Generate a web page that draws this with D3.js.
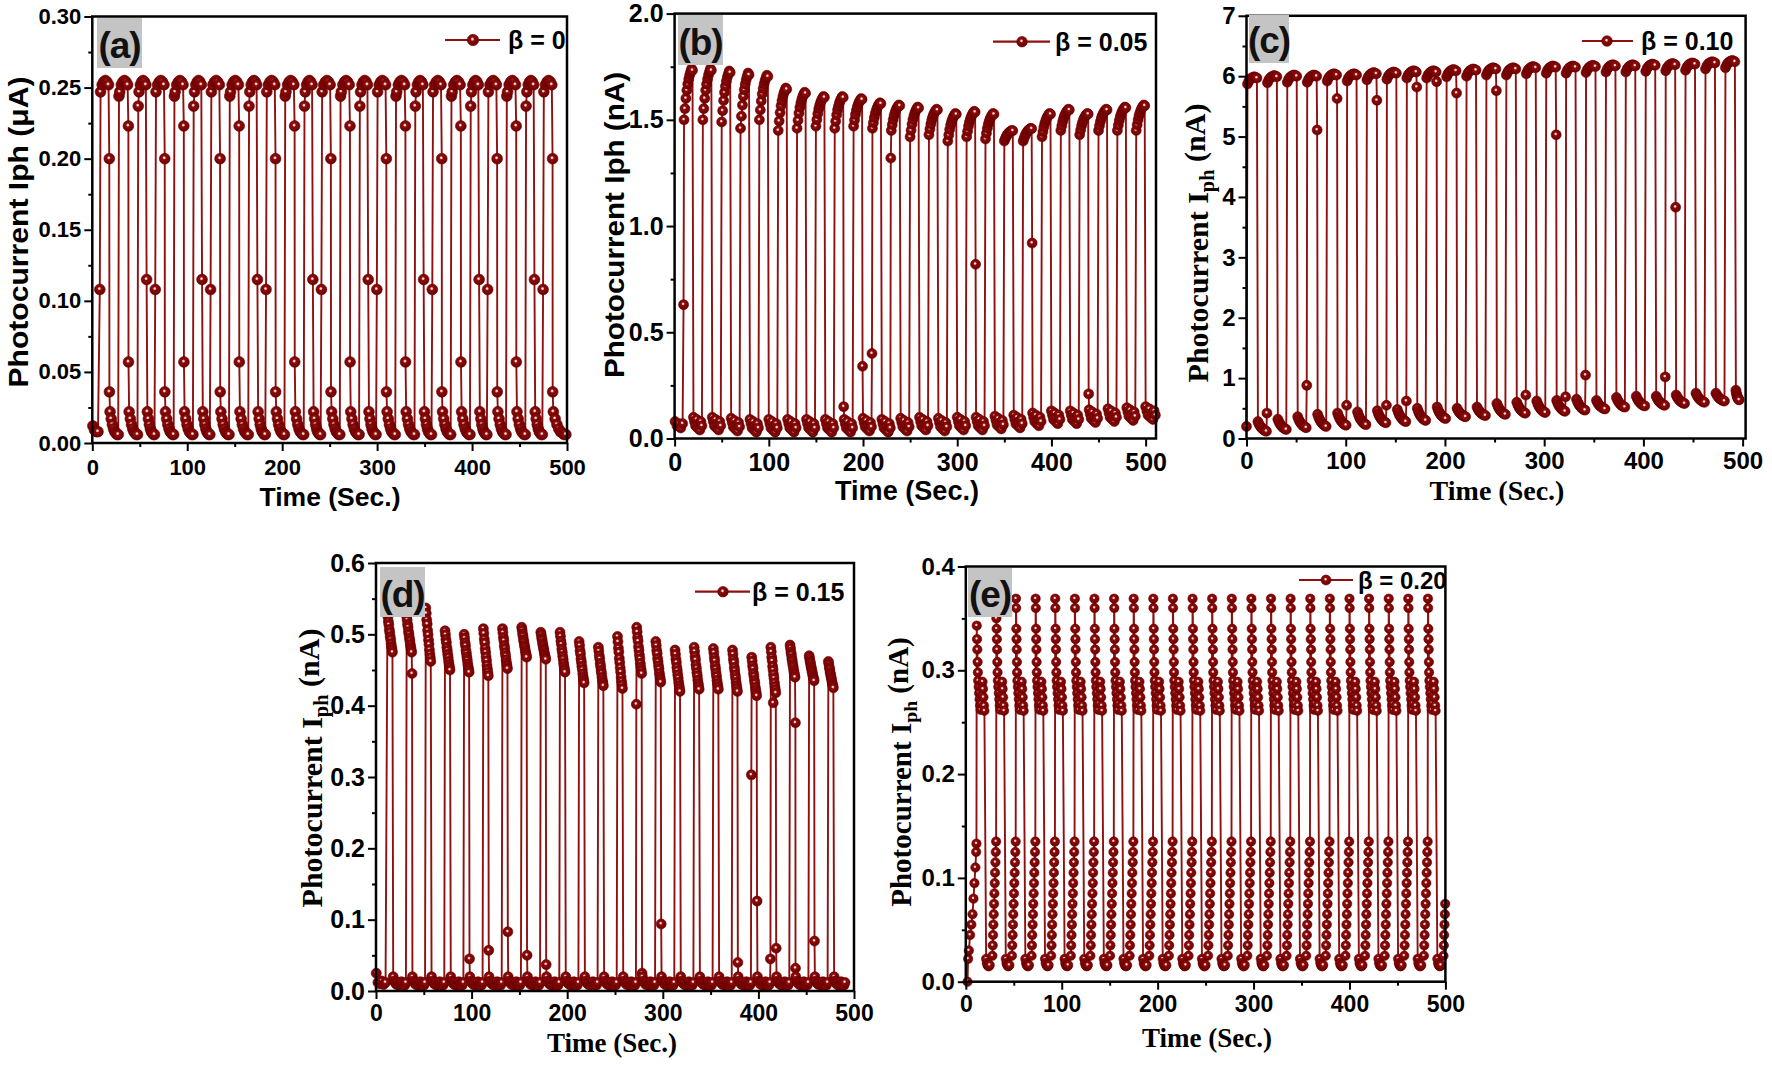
<!DOCTYPE html>
<html><head><meta charset="utf-8">
<script src="https://cdn.jsdelivr.net/npm/d3@7"></script>
<style>body{margin:0;background:#fff}svg{display:block}</style>
</head><body>
<svg id="chart" width="1772" height="1067"></svg>
<script>
// ================= DATA =================
const xTicks = [0,100,200,300,400,500];
const xMinor = [50,150,250,350,450];

// ---- Panel (a) beta = 0, Iph in uA ----
const aRise = [7.9,28.1,48.4,66.3,86.5,106.8,124.6,144.8,165.1,183.0,203.2,223.5,241.3,261.5,281.8,299.7,319.9,340.2,358.1,378.3,398.6,416.4,436.6,456.9,474.8];
const aFall = [17.9,38.0,57.2,76.3,96.4,115.6,134.6,154.7,173.9,193.0,213.1,232.3,251.3,271.4,290.6,309.7,329.8,349.0,368.1,388.2,407.4,426.4,446.5,465.7,484.8];
const aRiseEdge = [0.108,0.244,0.237,0.108,0.244,0.237,0.108,0.244,0.237,0.108,0.244,0.237,0.108,0.244,0.237,0.108,0.244,0.237,0.108,0.244,0.237,0.108,0.244,0.237,0.108];
const aFallEdge = [[0.2,0.036],[0.223,0.057],[0.115],[0.2,0.036],[0.223,0.057],[0.115],[0.2,0.036],[0.223,0.057],[0.115],[0.2,0.036],[0.223,0.057],[0.115],[0.2,0.036],[0.223,0.057],[0.115],[0.2,0.036],[0.223,0.057],[0.115],[0.2,0.036],[0.223,0.057],[0.115],[0.2,0.036],[0.223,0.057],[0.115],[0.2,0.036]];
const aOnVals = [0.247,0.252,0.254,0.255,0.254,0.252];
const aOffVals = [0.022,0.017,0.013,0.010,0.008,0.007,0.006,0.006];
const aStart = [[0.6,0.012],[2.4,0.009],[4.2,0.008],[6.0,0.008]];
const aEnd = 499.6;
const aYTicks = [0,0.05,0.10,0.15,0.20,0.25,0.30];
const aYMinor = [0.025,0.075,0.125,0.175,0.225,0.275];

// ---- Panel (b) beta = 0.05, Iph in nA ----
const bRise = [9.5,29.5,49.5,69.5,89.5,109.5,129.5,149.5,169.5,189.5,209.5,229.5,249.5,269.5,289.5,309.5,329.5,349.5,369.5,389.5,409.5,429.5,449.5,469.5,489.5];
const bFall = [19.5,39.5,59.5,79.5,99.5,119.5,139.5,159.5,179.5,199.5,219.5,239.5,259.5,279.5,299.5,319.5,339.5,359.5,379.5,399.5,419.5,439.5,459.5,479.5,499.5];
const bOnLow  = [1.50,1.50,1.49,1.46,1.50,1.45,1.46,1.47,1.46,1.47,1.46,1.45,1.42,1.43,1.40,1.42,1.41,1.40,1.40,1.42,1.45,1.43,1.45,1.45,1.45];
const bOnHigh = [1.74,1.74,1.73,1.72,1.71,1.65,1.63,1.61,1.61,1.60,1.58,1.57,1.56,1.55,1.53,1.54,1.53,1.45,1.46,1.53,1.55,1.53,1.55,1.56,1.57];
const bOnShape = [0,0.22,0.42,0.58,0.7,0.8,0.88,0.94,1.0,0.97];
const bOffLevel = [0.07,0.07,0.065,0.06,0.06,0.06,0.06,0.06,0.06,0.065,0.06,0.065,0.07,0.065,0.07,0.07,0.075,0.08,0.09,0.10,0.10,0.105,0.11,0.115,0.12];
const bOffShape = [0.03,0.01,-0.01,0.02,-0.02,0.0,-0.03,0.01,-0.01];
const bRiseEdge = {0:[0.63],10:[0.40],11:[1.32]};
const bFallEdge = {8:[0.15],9:[0.34],15:[0.82],18:[0.92],21:[0.21]};
const bStart = [[0.5,0.08],[2.5,0.06],[4.5,0.07],[6.5,0.05],[8.5,0.07]];
const bEnd = 510.8;
const bYTicks = [0,0.5,1.0,1.5,2.0];
const bYMinor = [0.25,0.75,1.25,1.75];

// ---- Panel (c) beta = 0.10, Iph in nA ----
const cRise = [0.5,20.6,40.6,60.7,80.8,100.9,120.9,141.0,161.1,181.1,201.2,221.3,241.3,261.4,281.5,301.6,321.6,341.7,361.8,381.8,401.9,422.0,442.0,462.1,482.2];
const cFall = [11.0,31.1,51.1,71.2,91.3,111.4,131.4,151.5,171.6,191.6,211.7,231.8,251.8,271.9,292.0,312.1,332.1,352.2,372.3,392.3,412.4,432.5,452.5,472.6,492.7];
const cOn = [5.95,5.97,5.98,5.98,6.0,6.0,6.02,6.03,6.05,6.05,6.07,6.08,6.10,6.10,6.12,6.13,6.13,6.14,6.15,6.15,6.16,6.17,6.18,6.20,6.22];
const cOnShape = [-0.08,-0.03,0.0,0.02,0.03,0.04,0.03,0.02];
const cOffLow  = [0.12,0.15,0.18,0.20,0.22,0.23,0.26,0.28,0.30,0.33,0.36,0.38,0.40,0.42,0.43,0.45,0.47,0.49,0.52,0.54,0.55,0.58,0.60,0.62,0.64];
const cOffHigh = [0.28,0.32,0.36,0.40,0.42,0.44,0.46,0.48,0.50,0.52,0.50,0.52,0.58,0.60,0.62,0.63,0.65,0.63,0.68,0.70,0.70,0.72,0.75,0.75,0.80];
const cOffShape = [1,0.75,0.55,0.4,0.28,0.18,0.1,0.04,0];
const cRiseEdge = {1:[0.42],3:[0.88],5:[0.55],7:[0.55],8:[0.62],14:[0.72],16:[0.69],17:[1.05],21:[1.02]};
const cFallEdge = {3:[5.11],4:[5.63],6:[5.60],8:[5.82],9:[5.91],10:[5.72],12:[5.76],15:[5.03],21:[3.83]};
const cStart = [[0.0,0.2]];
const cEnd = 497;
const cYTicks = [0,1,2,3,4,5,6,7];
const cYMinor = [0.5,1.5,2.5,3.5,4.5,5.5,6.5];

// ---- Panel (d) beta = 0.15, Iph in nA ----
const dRise = [11.6,31.7,51.7,71.8,91.8,111.9,131.9,152.0,172.0,192.1,212.1,232.2,252.2,272.3,292.3,312.4,332.4,352.5,372.5,392.6,412.6,432.7,452.7,472.8];
const dFall = [17.6,37.7,57.7,77.8,97.8,117.9,137.9,158.0,178.0,198.1,218.1,238.2,258.2,278.3,298.3,318.4,338.4,358.5,378.5,398.6,418.6,438.7,458.7,478.8];
const dOnHigh = [0.53,0.525,0.537,0.505,0.50,0.508,0.508,0.51,0.503,0.503,0.49,0.482,0.497,0.51,0.49,0.478,0.482,0.48,0.478,0.468,0.482,0.485,0.47,0.462];
const dOnLow  = [0.475,0.475,0.462,0.45,0.447,0.442,0.452,0.468,0.465,0.447,0.432,0.428,0.424,0.445,0.433,0.42,0.423,0.423,0.42,0.414,0.418,0.44,0.435,0.425];
const dOnShape = [0,0.1,0.22,0.3,0.42,0.5,0.6,0.68,0.78,0.86,0.93,1.0];
const dOffVals = [0.02,0.014,0.011,0.009,0.012,0.008,0.01,0.013,0.009,0.011,0.008,0.012];
const dRiseEdge = {13:[0.402],19:[0.303],20:[0.045]};
const dFallEdge = {1:[0.445],4:[0.045],5:[0.057],6:[0.083],7:[0.05],8:[0.037],13:[0.025],14:[0.094],18:[0.04],19:[0.126],20:[0.06],21:[0.376,0.032],22:[0.07]};
const dExtra = [[415.5,0.404]];
const dStart = [[0.3,0.025],[2.0,0.012],[4.0,0.010],[6.0,0.014],[8.0,0.009],[10.0,0.012]];
const dEnd = 491;
const dYTicks = [0,0.1,0.2,0.3,0.4,0.5,0.6];
const dYMinor = [0.05,0.15,0.25,0.35,0.45,0.55];

// ---- Panel (e) beta = 0.20, Iph in nA ----
const eJump = [11.4,31.9,52.3,72.8,93.2,113.7,134.1,154.6,175.0,195.5,215.9,236.4,256.8,277.3,297.7,318.2,338.6,359.1,379.5,400.0,420.4,440.9,461.3,481.8,502.2];
const eTop = [0.343,0.35,0.369,0.369,0.369,0.369,0.369,0.369,0.369,0.369,0.369,0.369,0.369,0.369,0.369,0.369,0.369,0.369,0.369,0.369,0.369,0.369,0.369,0.369];
const eColumn = [0.36,0.34,0.33,0.32,0.308,0.298];
const eBlob = [0.29,0.284,0.278,0.272,0.266,0.262,0.268,0.276,0.284,0.289,0.282,0.274,0.266,0.261];
const eLow = [0.022,0.018,0.016,0.015,0.015,0.016];
const eSlowRise = [0.025,0.035,0.045,0.055,0.065,0.075,0.085,0.095,0.105,0.115,0.125,0.135];
const eStart = [[1.8,0.0],[2.4,0.022],[3.2,0.03],[4.5,0.045],[5.8,0.055],[7.0,0.065],[8.0,0.08],[9.0,0.095],[10.0,0.11],[10.8,0.125],[11.1,0.133]];
const eEnd = 500;
const eYTicks = [0,0.1,0.2,0.3,0.4];
const eYMinor = [0.05,0.15,0.25,0.35];

// ================= BUILD POINT LISTS =================
function spread(t0, t1, vals){
  const n = vals.length;
  return vals.map((v,i)=>[n===1?(t0+t1)/2:t0+(t1-t0)*i/(n-1), v]);
}
function buildSquare(rise, fall, end, start, onFn, offFn, riseEdge, fallEdge, gap){
  const pts = start.slice();
  for(let k=0;k<rise.length;k++){
    const r=rise[k], f=fall[k], nx = k<rise.length-1 ? rise[k+1] : end;
    (riseEdge[k]||[]).forEach((v,i)=>pts.push([r+0.12*i, v]));
    pts.push(...spread(r+gap, f-gap, onFn(k)));
    (fallEdge[k]||[]).forEach((v,i)=>pts.push([f+0.12*i, v]));
    pts.push(...spread(f+gap, nx-gap, offFn(k)));
  }
  return pts;
}
const aPts = buildSquare(aRise,aFall,aEnd,aStart,
  k=>aOnVals, k=>aOffVals,
  Object.fromEntries(aRiseEdge.map((v,k)=>[k,[v]])),
  Object.fromEntries(aFallEdge.map((v,k)=>[k,v])), 0.8);
const bPts = buildSquare(bRise,bFall,bEnd,bStart,
  k=>bOnShape.map(fr=>bOnLow[k]+fr*(bOnHigh[k]-bOnLow[k])),
  k=>bOffShape.map(o=>Math.max(0.005,bOffLevel[k]+o)),
  bRiseEdge,bFallEdge,0.5);
const cPts = buildSquare(cRise,cFall,cEnd,cStart,
  k=>cOnShape.map(o=>cOn[k]+o),
  k=>cOffShape.map(fr=>cOffLow[k]+fr*(cOffHigh[k]-cOffLow[k])),
  cRiseEdge,cFallEdge,0.5);
let dPts = buildSquare(dRise,dFall,dEnd,dStart,
  k=>dOnShape.map(fr=>dOnHigh[k]-fr*(dOnHigh[k]-dOnLow[k])),
  k=>dOffVals, dRiseEdge,dFallEdge,0.4);
dPts = dPts.concat(dExtra).map((p,i)=>[p[0],p[1],i]).sort((p,q)=>p[0]-q[0]||p[2]-q[2]).map(p=>[p[0],p[1]]);

const ePts = eStart.slice();
for(let k=0;k<eJump.length;k++){
  const J = eJump[k];
  if(k<eTop.length){
    const col = [eTop[k]].concat(eColumn.filter(v=>v<eTop[k]-0.004));
    ePts.push(...spread(J, J+1.2, col));
    ePts.push(...spread(J+1.5, J+8.0, eBlob));
    ePts.push(...spread(J+9.8, J+13.5, eLow));
  }
  if(k+1<eJump.length){
    const Jn = eJump[k+1];
    ePts.push(...spread(Jn-4.2, Jn-0.3, eSlowRise));
  }
}
const ePtsClip = ePts.filter(p=>p[0]<=eEnd);

// ================= DRAW =================
const SANS = "'Liberation Sans', Arial, Helvetica, sans-serif";
const SERIF = "'Liberation Serif', 'Times New Roman', Times, serif";
const LINE = "#8f1010";
const svg = d3.select('#chart');
svg.append('rect').attr('width',1772).attr('height',1067).attr('fill','#fff');
const defs = svg.append('defs');
const grad = defs.append('radialGradient').attr('id','ball').attr('cx','45%').attr('cy','42%').attr('r','58%');
grad.append('stop').attr('offset','0%').attr('stop-color','#ffffff');
grad.append('stop').attr('offset','12%').attr('stop-color','#efcccc');
grad.append('stop').attr('offset','30%').attr('stop-color','#8e0b0b');
grad.append('stop').attr('offset','100%').attr('stop-color','#6c0000');

function drawPanel(p){
  const x = d3.scaleLinear().domain(p.xDom).range([p.left,p.right]);
  const y = d3.scaleLinear().domain(p.yDom).range([p.bottom,p.top]);
  const g = svg.append('g');
  const line = d3.line().x(d=>x(d[0])).y(d=>y(d[1]));
  g.append('path').datum(p.pts).attr('d',line).attr('fill','none')
    .attr('stroke',LINE).attr('stroke-width',1.9).attr('stroke-linejoin','round');
  g.append('g').selectAll('circle').data(p.pts).join('circle')
    .attr('cx',d=>x(d[0])).attr('cy',d=>y(d[1])).attr('r',p.r)
    .attr('fill','url(#ball)').attr('stroke','#6a0000').attr('stroke-width',0.6);
  // axes
  const gy = g.append('g').attr('transform',`translate(${p.left},0)`)
    .call(d3.axisLeft(y).tickValues(p.yTicks).tickSize(8).tickPadding(3).tickFormat(d3.format(p.yFmt)));
  const gym = g.append('g').attr('transform',`translate(${p.left},0)`)
    .call(d3.axisLeft(y).tickValues(p.yMinor).tickSize(4).tickFormat(''));
  const xfs = p.xfs || p.fs;
  const xPad = (p.xBase||32) - 8 - 0.71*xfs;
  const gx = g.append('g').attr('transform',`translate(0,${p.bottom})`)
    .call(d3.axisBottom(x).tickValues(xTicks).tickSize(8).tickPadding(xPad).tickFormat(d3.format('d')));
  const gxm = g.append('g').attr('transform',`translate(0,${p.bottom})`)
    .call(d3.axisBottom(x).tickValues(xMinor).tickSize(4).tickFormat(''));
  [gy,gym,gx,gxm].forEach(a=>{
    a.select('.domain').remove();
    a.selectAll('line').attr('stroke','#000').attr('stroke-width',2);
    a.selectAll('text').attr('font-family',SANS).attr('font-weight','bold').attr('fill','#000');
  });
  gy.selectAll('text').attr('font-size',p.fs);
  gx.selectAll('text').attr('font-size',xfs);
  g.append('rect').attr('x',p.left).attr('y',p.top).attr('width',p.right-p.left)
    .attr('height',p.bottom-p.top).attr('fill','none').attr('stroke','#000').attr('stroke-width',2.5);
  // y title
  const yt = g.append('text').attr('transform',`translate(${p.yT[0]},${p.yT[1]}) rotate(-90)`)
    .attr('text-anchor','middle').attr('font-weight','bold').attr('fill','#000');
  if(p.serif){
    yt.attr('font-family',SERIF).attr('font-size',p.yTfs);
    yt.append('tspan').text('Photocurrent I');
    yt.append('tspan').attr('font-size',p.yTfs*0.68).attr('dy','0.3em').text('ph');
    yt.append('tspan').attr('dy','-0.3em').text(' ('+p.unit+')');
  } else {
    yt.attr('font-family',SANS).attr('font-size',p.yTfs)
      .attr('textLength',p.yTlen).attr('lengthAdjust','spacingAndGlyphs')
      .text('Photocurrent Iph ('+p.unit+')');
  }
  // x title
  const xt = g.append('text').attr('x',p.xT[0]).attr('y',p.xT[1]).attr('text-anchor','middle')
    .attr('font-weight','bold').attr('fill','#000')
    .attr('font-family',p.serif?SERIF:SANS).attr('font-size',p.xTfs).text('Time (Sec.)');
  if(p.xTlen) xt.attr('textLength',p.xTlen).attr('lengthAdjust','spacingAndGlyphs');
  // panel label
  g.append('rect').attr('x',p.box[0]).attr('y',p.box[1]).attr('width',p.box[2]).attr('height',p.box[3]).attr('fill','#c4c4c4');
  g.append('text').attr('x',p.box[0]+p.box[2]/2).attr('y',p.box[1]+p.box[3]-10)
    .attr('text-anchor','middle').attr('font-family',SANS).attr('font-weight','bold')
    .attr('font-size',37).attr('letter-spacing',-1).attr('fill','#111').text(p.label);
  // legend
  g.append('line').attr('x1',p.leg[0]).attr('x2',p.leg[1]).attr('y1',p.leg[3]).attr('y2',p.leg[3])
    .attr('stroke',LINE).attr('stroke-width',2.2);
  g.append('circle').attr('cx',p.leg[2]).attr('cy',p.leg[3]).attr('r',p.r+0.3)
    .attr('fill','url(#ball)').attr('stroke','#6a0000').attr('stroke-width',0.6);
  g.append('text').attr('x',p.legT[0]).attr('y',p.legT[1]).attr('font-family',SANS)
    .attr('font-weight','bold').attr('font-size',p.legFs||25).attr('fill','#000').text(p.legText);
}

drawPanel({pts:aPts,xDom:[0,500],yDom:[0,0.3],left:92.3,right:567,bottom:443,top:16.5,
  yTicks:aYTicks,yMinor:aYMinor,yFmt:'.2f',fs:22,r:5.4,unit:'\u03bcA',
  yT:[28,232],yTfs:27,yTlen:311,xT:[330,506],xTfs:26,xTlen:141,
  box:[97,18,45,50],label:'(a)',leg:[445,500,473,40],legT:[508,49],legText:'\u03b2 = 0'});
drawPanel({pts:bPts,xDom:[0,511],yDom:[0,2],left:674.6,right:1156,bottom:438.5,top:13.6,
  yTicks:bYTicks,yMinor:bYMinor,yFmt:'.1f',fs:25,r:5,unit:'nA',
  yT:[624,225],yTfs:27,yTlen:306,xT:[907,500],xTfs:27,xTlen:144,
  box:[678,15,45,50],label:'(b)',leg:[993,1050,1022,41.7],legT:[1055,51],legText:'\u03b2 = 0.05'});
drawPanel({pts:cPts,xDom:[0,503],yDom:[0,7],left:1246.5,right:1745.6,bottom:438.5,top:15.8,
  yTicks:cYTicks,yMinor:cYMinor,yFmt:'d',fs:24,r:5,unit:'nA',serif:true,xBase:30,
  yT:[1208,243],yTfs:30,xT:[1497,500],xTfs:28,
  box:[1249,15,40,48],label:'(c)',leg:[1582,1633,1607,41],legT:[1641,50],legText:'\u03b2 = 0.10'});
drawPanel({pts:dPts,xDom:[0,500],yDom:[0,0.6],left:376,right:854,bottom:991,top:563,
  yTicks:dYTicks,yMinor:dYMinor,yFmt:'.1f',fs:25,xfs:23,r:5,unit:'nA',serif:true,xBase:30,
  yT:[322,768],yTfs:30,xT:[612,1052],xTfs:27,
  box:[380,567,45,50],label:'(d)',leg:[695,750,723,591.7],legT:[752,601],legText:'\u03b2 = 0.15'});
drawPanel({pts:ePtsClip,xDom:[0,500],yDom:[0,0.4],left:965.8,right:1445.4,bottom:981.7,top:566.5,
  yTicks:eYTicks,yMinor:eYMinor,yFmt:'.1f',fs:24,xfs:23,r:4.7,unit:'nA',serif:true,xBase:30,
  yT:[911,772],yTfs:29,xT:[1207,1047],xTfs:27,
  box:[968,568,44,49],label:'(e)',leg:[1299,1353,1326,580],legT:[1358,589],legFs:24,legText:'\u03b2 = 0.20'});
</script>
</body></html>
